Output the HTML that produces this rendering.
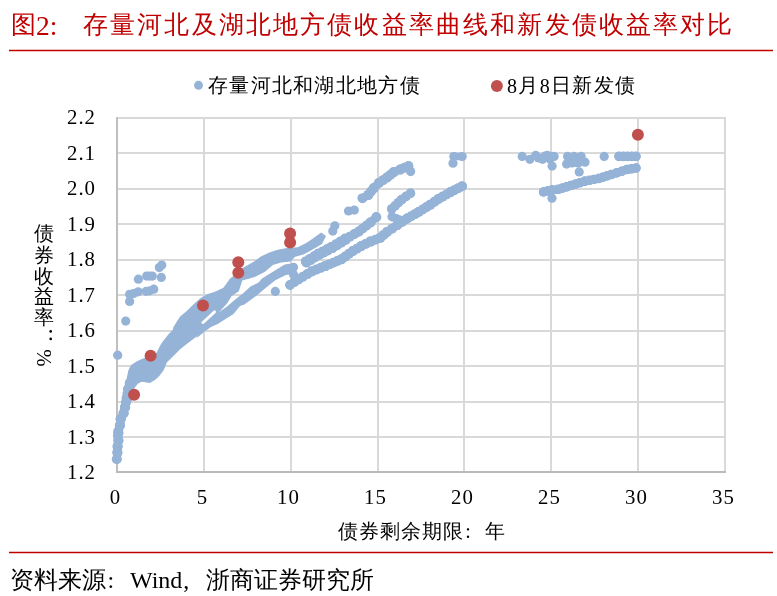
<!DOCTYPE html>
<html><head><meta charset="utf-8"><style>
html,body{margin:0;padding:0;background:#fff;}
body{width:777px;height:596px;position:relative;overflow:hidden;font-family:"Liberation Serif";color:#000;}
.t{position:absolute;white-space:nowrap;}
.t,.yl,.xl,.yc{will-change:transform;}
.yl{position:absolute;left:42px;width:54px;text-align:right;font-size:20.8px;line-height:24px;letter-spacing:1px;}
.yc{position:absolute;left:33px;width:22px;font-size:20.4px;line-height:22px;text-align:center;}
.xl{position:absolute;top:485px;width:60px;text-align:center;font-size:20.8px;line-height:24px;letter-spacing:1px;text-indent:1px;}
svg{position:absolute;left:0;top:0;}
</style></head><body>
<div class="t" style="left:11px;top:6.5px;font-size:25px;line-height:36px;color:#c00000;">图</div>
<div class="t" style="left:36px;top:8px;font-size:27.5px;line-height:36px;color:#c00000;">2:</div>
<div class="t" style="left:83px;top:6.8px;font-size:25px;line-height:36px;letter-spacing:2.15px;color:#c00000;">存量河北及湖北地方债收益率曲线和新发债收益率对比</div>
<svg width="777" height="596">
<line x1="9" y1="50.5" x2="773" y2="50.5" stroke="#c00000" stroke-width="1.5"/>
<line x1="9" y1="552.5" x2="773" y2="552.5" stroke="#c00000" stroke-width="1.5"/>
<line x1="117.0" y1="118" x2="726.0" y2="118" stroke="#d9d9d9" stroke-width="2"/><line x1="117.0" y1="153" x2="726.0" y2="153" stroke="#d9d9d9" stroke-width="2"/><line x1="117.0" y1="189" x2="726.0" y2="189" stroke="#d9d9d9" stroke-width="2"/><line x1="117.0" y1="224" x2="726.0" y2="224" stroke="#d9d9d9" stroke-width="2"/><line x1="117.0" y1="260" x2="726.0" y2="260" stroke="#d9d9d9" stroke-width="2"/><line x1="117.0" y1="295" x2="726.0" y2="295" stroke="#d9d9d9" stroke-width="2"/><line x1="117.0" y1="331" x2="726.0" y2="331" stroke="#d9d9d9" stroke-width="2"/><line x1="117.0" y1="366" x2="726.0" y2="366" stroke="#d9d9d9" stroke-width="2"/><line x1="117.0" y1="402" x2="726.0" y2="402" stroke="#d9d9d9" stroke-width="2"/><line x1="117.0" y1="437" x2="726.0" y2="437" stroke="#d9d9d9" stroke-width="2"/><line x1="204" y1="117.0" x2="204" y2="472" stroke="#d9d9d9" stroke-width="2"/><line x1="291" y1="117.0" x2="291" y2="472" stroke="#d9d9d9" stroke-width="2"/><line x1="378" y1="117.0" x2="378" y2="472" stroke="#d9d9d9" stroke-width="2"/><line x1="464" y1="117.0" x2="464" y2="472" stroke="#d9d9d9" stroke-width="2"/><line x1="551" y1="117.0" x2="551" y2="472" stroke="#d9d9d9" stroke-width="2"/><line x1="638" y1="117.0" x2="638" y2="472" stroke="#d9d9d9" stroke-width="2"/><line x1="725" y1="117.0" x2="725" y2="472" stroke="#d9d9d9" stroke-width="2"/>
<line x1="117.0" y1="117.0" x2="117.0" y2="473" stroke="#bfbfbf" stroke-width="2"/><line x1="116.0" y1="472" x2="726.0" y2="472" stroke="#bababa" stroke-width="2"/>
<g fill="#95b3d7"><polygon points="124.0,400.0 123.1,397.1 125.1,386.4 126.4,379.7 128.4,370.3 131.1,364.9 136.5,361.5 141.8,358.9 145.9,357.5 156.6,352.8 160.6,344.8 163.3,340.7 168.7,334.0 172.7,330.0 173.4,327.1 180.1,316.4 186.8,311.0 193.6,304.3 200.3,298.3 207.0,294.2 215.0,291.8 223.4,287.7 230.1,278.4 235.2,274.8 243.5,267.5 247.0,265.6 254.1,261.4 261.2,256.2 269.4,252.6 277.6,249.7 287.0,247.9 297.6,247.3 305.8,243.2 311.8,239.2 321.2,232.5 326.0,236.0 322.0,244.0 310.0,251.0 303.5,254.4 295.2,256.7 290.5,261.4 281.1,262.6 272.9,265.0 265.0,271.7 255.3,276.7 250.5,278.2 242.3,280.6 238.8,291.2 231.7,295.9 227.0,303.5 222.0,309.0 214.0,318.0 210.0,325.0 200.0,334.0 188.0,343.0 180.4,349.0 174.4,355.0 166.8,362.5 163.8,370.0 159.3,376.0 155.3,379.7 149.9,383.0 141.8,381.7 137.8,383.7 133.8,389.1 131.8,401.1 130.0,404.0"/><polygon points="196.0,338.0 206.0,324.0 218.0,313.0 227.0,306.4 235.2,299.4 243.5,292.9 250.5,286.5 258.6,282.6 262.0,278.4 275.3,270.3 284.7,264.4 292.9,263.2 295.2,273.8 285.8,275.0 275.3,280.2 265.0,288.5 257.0,295.2 250.2,300.2 244.4,304.4 240.0,306.0 233.5,314.0 227.1,318.0 217.7,324.0 211.0,327.0 204.0,332.0 198.0,337.0"/><circle cx="129.6" cy="301.5" r="4.6"/><circle cx="125.7" cy="321.1" r="4.6"/><circle cx="117.7" cy="355.2" r="4.6"/><circle cx="275.3" cy="291.4" r="4.6"/><circle cx="293.5" cy="267.3" r="4.6"/><circle cx="293.5" cy="274.4" r="4.6"/><circle cx="348.5" cy="211.0" r="4.6"/><circle cx="354.3" cy="210.1" r="4.6"/><circle cx="334.8" cy="225.8" r="4.6"/><circle cx="332.8" cy="231.1" r="4.6"/><circle cx="129.6" cy="294.3" r="4.6"/><circle cx="133.6" cy="293.5" r="4.6"/><circle cx="138.2" cy="291.8" r="4.6"/><circle cx="146.2" cy="291.3" r="4.6"/><circle cx="149.7" cy="290.8" r="4.6"/><circle cx="153.8" cy="289.2" r="4.6"/><circle cx="138.4" cy="279.2" r="4.6"/><circle cx="146.7" cy="276.1" r="4.6"/><circle cx="149.5" cy="276.1" r="4.6"/><circle cx="152.3" cy="276.1" r="4.6"/><circle cx="161.3" cy="277.4" r="4.6"/><circle cx="159.3" cy="267.6" r="4.6"/><circle cx="161.8" cy="265.1" r="4.6"/><circle cx="410.6" cy="171.6" r="4.6"/><circle cx="453.0" cy="163.2" r="4.6"/><circle cx="522.2" cy="156.4" r="4.6"/><circle cx="529.9" cy="159.3" r="4.6"/><circle cx="535.7" cy="155.4" r="4.6"/><circle cx="538.5" cy="158.0" r="4.6"/><circle cx="542.5" cy="159.3" r="4.6"/><circle cx="545.0" cy="156.0" r="4.6"/><circle cx="547.3" cy="155.4" r="4.6"/><circle cx="551.0" cy="156.4" r="4.6"/><circle cx="554.1" cy="156.4" r="4.6"/><circle cx="550.0" cy="159.0" r="4.6"/><circle cx="552.1" cy="166.1" r="4.6"/><circle cx="567.6" cy="156.4" r="4.6"/><circle cx="574.0" cy="156.4" r="4.6"/><circle cx="581.1" cy="156.4" r="4.6"/><circle cx="566.6" cy="164.1" r="4.6"/><circle cx="572.0" cy="163.0" r="4.6"/><circle cx="578.0" cy="163.0" r="4.6"/><circle cx="585.0" cy="162.2" r="4.6"/><circle cx="579.2" cy="171.9" r="4.6"/><circle cx="604.2" cy="156.4" r="4.6"/><circle cx="552.0" cy="198.2" r="4.6"/><circle cx="117.9" cy="431.0" r="4.6"/><circle cx="117.5" cy="436.0" r="4.6"/></g><g fill="#95b3d7"><circle cx="362.1" cy="198.0" r="4.6"/><circle cx="362.5" cy="198.6" r="4.6"/><circle cx="362.3" cy="198.3" r="4.6"/><circle cx="368.1" cy="194.6" r="4.6"/><circle cx="368.5" cy="195.2" r="4.6"/><circle cx="368.3" cy="194.9" r="4.6"/><circle cx="368.0" cy="194.6" r="4.6"/><circle cx="368.6" cy="195.2" r="4.6"/><circle cx="368.3" cy="194.9" r="4.6"/><circle cx="370.7" cy="191.3" r="4.6"/><circle cx="371.3" cy="191.8" r="4.6"/><circle cx="371.0" cy="191.6" r="4.6"/><circle cx="373.4" cy="187.9" r="4.6"/><circle cx="374.0" cy="188.5" r="4.6"/><circle cx="373.7" cy="188.2" r="4.6"/><circle cx="373.4" cy="187.9" r="4.6"/><circle cx="374.0" cy="188.5" r="4.6"/><circle cx="373.7" cy="188.2" r="4.6"/><circle cx="378.8" cy="182.5" r="4.6"/><circle cx="379.4" cy="183.1" r="4.6"/><circle cx="379.1" cy="182.8" r="4.6"/><circle cx="378.9" cy="182.5" r="4.6"/><circle cx="379.3" cy="183.1" r="4.6"/><circle cx="379.1" cy="182.8" r="4.6"/><circle cx="382.9" cy="179.8" r="4.6"/><circle cx="383.3" cy="180.4" r="4.6"/><circle cx="383.1" cy="180.1" r="4.6"/><circle cx="386.9" cy="177.1" r="4.6"/><circle cx="387.3" cy="177.7" r="4.6"/><circle cx="387.1" cy="177.4" r="4.6"/><circle cx="386.9" cy="177.1" r="4.6"/><circle cx="387.3" cy="177.7" r="4.6"/><circle cx="387.1" cy="177.4" r="4.6"/><circle cx="390.2" cy="174.4" r="4.6"/><circle cx="390.7" cy="175.1" r="4.6"/><circle cx="390.5" cy="174.8" r="4.6"/><circle cx="393.6" cy="171.8" r="4.6"/><circle cx="394.0" cy="172.4" r="4.6"/><circle cx="393.8" cy="172.1" r="4.6"/><circle cx="393.7" cy="171.7" r="4.6"/><circle cx="393.9" cy="172.5" r="4.6"/><circle cx="393.8" cy="172.1" r="4.6"/><circle cx="400.4" cy="169.0" r="4.6"/><circle cx="400.6" cy="169.8" r="4.6"/><circle cx="400.5" cy="169.4" r="4.6"/><circle cx="400.3" cy="169.0" r="4.6"/><circle cx="400.7" cy="169.8" r="4.6"/><circle cx="400.5" cy="169.4" r="4.6"/><circle cx="404.4" cy="167.3" r="4.6"/><circle cx="404.7" cy="168.1" r="4.6"/><circle cx="404.6" cy="167.7" r="4.6"/><circle cx="408.4" cy="165.6" r="4.6"/><circle cx="408.8" cy="166.4" r="4.6"/><circle cx="408.6" cy="166.0" r="4.6"/><circle cx="305.4" cy="261.0" r="4.6"/><circle cx="306.6" cy="263.0" r="4.6"/><circle cx="306.0" cy="262.0" r="4.6"/><circle cx="309.6" cy="258.5" r="4.6"/><circle cx="310.8" cy="260.4" r="4.6"/><circle cx="310.2" cy="259.4" r="4.6"/><circle cx="313.8" cy="255.9" r="4.6"/><circle cx="315.0" cy="257.8" r="4.6"/><circle cx="314.4" cy="256.9" r="4.6"/><circle cx="318.0" cy="253.3" r="4.6"/><circle cx="319.2" cy="255.3" r="4.6"/><circle cx="318.6" cy="254.3" r="4.6"/><circle cx="318.1" cy="253.3" r="4.6"/><circle cx="319.1" cy="255.3" r="4.6"/><circle cx="318.6" cy="254.3" r="4.6"/><circle cx="322.5" cy="251.0" r="4.6"/><circle cx="323.6" cy="253.1" r="4.6"/><circle cx="323.1" cy="252.0" r="4.6"/><circle cx="327.0" cy="248.7" r="4.6"/><circle cx="328.1" cy="250.8" r="4.6"/><circle cx="327.5" cy="249.8" r="4.6"/><circle cx="331.5" cy="246.5" r="4.6"/><circle cx="332.5" cy="248.5" r="4.6"/><circle cx="332.0" cy="247.5" r="4.6"/><circle cx="331.4" cy="246.5" r="4.6"/><circle cx="332.6" cy="248.5" r="4.6"/><circle cx="332.0" cy="247.5" r="4.6"/><circle cx="335.9" cy="243.8" r="4.6"/><circle cx="337.1" cy="245.7" r="4.6"/><circle cx="336.5" cy="244.7" r="4.6"/><circle cx="340.3" cy="241.0" r="4.6"/><circle cx="341.5" cy="242.9" r="4.6"/><circle cx="340.9" cy="242.0" r="4.6"/><circle cx="344.8" cy="238.2" r="4.6"/><circle cx="346.0" cy="240.2" r="4.6"/><circle cx="345.4" cy="239.2" r="4.6"/><circle cx="345.2" cy="238.9" r="4.6"/><circle cx="345.6" cy="239.5" r="4.6"/><circle cx="345.4" cy="239.2" r="4.6"/><circle cx="349.7" cy="236.3" r="4.6"/><circle cx="350.1" cy="237.0" r="4.6"/><circle cx="349.9" cy="236.6" r="4.6"/><circle cx="354.1" cy="233.7" r="4.6"/><circle cx="354.5" cy="234.4" r="4.6"/><circle cx="354.3" cy="234.1" r="4.6"/><circle cx="358.6" cy="231.2" r="4.6"/><circle cx="359.0" cy="231.8" r="4.6"/><circle cx="358.8" cy="231.5" r="4.6"/><circle cx="358.6" cy="231.2" r="4.6"/><circle cx="359.0" cy="231.8" r="4.6"/><circle cx="358.8" cy="231.5" r="4.6"/><circle cx="362.5" cy="228.2" r="4.6"/><circle cx="362.9" cy="228.8" r="4.6"/><circle cx="362.7" cy="228.5" r="4.6"/><circle cx="366.4" cy="225.2" r="4.6"/><circle cx="366.8" cy="225.8" r="4.6"/><circle cx="366.6" cy="225.5" r="4.6"/><circle cx="370.3" cy="222.2" r="4.6"/><circle cx="370.7" cy="222.8" r="4.6"/><circle cx="370.5" cy="222.5" r="4.6"/><circle cx="370.2" cy="222.2" r="4.6"/><circle cx="370.8" cy="222.8" r="4.6"/><circle cx="370.5" cy="222.5" r="4.6"/><circle cx="376.1" cy="216.7" r="4.6"/><circle cx="376.7" cy="217.3" r="4.6"/><circle cx="376.4" cy="217.0" r="4.6"/><circle cx="289.8" cy="284.7" r="4.6"/><circle cx="290.2" cy="285.3" r="4.6"/><circle cx="290.0" cy="285.0" r="4.6"/><circle cx="294.0" cy="281.9" r="4.6"/><circle cx="294.4" cy="282.5" r="4.6"/><circle cx="294.2" cy="282.2" r="4.6"/><circle cx="298.2" cy="279.1" r="4.6"/><circle cx="298.6" cy="279.7" r="4.6"/><circle cx="298.4" cy="279.4" r="4.6"/><circle cx="298.2" cy="279.1" r="4.6"/><circle cx="298.6" cy="279.7" r="4.6"/><circle cx="298.4" cy="279.4" r="4.6"/><circle cx="302.7" cy="276.4" r="4.6"/><circle cx="303.1" cy="277.1" r="4.6"/><circle cx="302.9" cy="276.7" r="4.6"/><circle cx="307.1" cy="273.7" r="4.6"/><circle cx="307.5" cy="274.4" r="4.6"/><circle cx="307.3" cy="274.1" r="4.6"/><circle cx="311.6" cy="271.1" r="4.6"/><circle cx="312.0" cy="271.7" r="4.6"/><circle cx="311.8" cy="271.4" r="4.6"/><circle cx="311.7" cy="271.0" r="4.6"/><circle cx="311.9" cy="271.8" r="4.6"/><circle cx="311.8" cy="271.4" r="4.6"/><circle cx="316.2" cy="269.2" r="4.6"/><circle cx="316.4" cy="270.0" r="4.6"/><circle cx="316.3" cy="269.6" r="4.6"/><circle cx="320.7" cy="267.4" r="4.6"/><circle cx="320.9" cy="268.2" r="4.6"/><circle cx="320.8" cy="267.8" r="4.6"/><circle cx="325.2" cy="265.6" r="4.6"/><circle cx="325.4" cy="266.4" r="4.6"/><circle cx="325.3" cy="266.0" r="4.6"/><circle cx="325.1" cy="265.6" r="4.6"/><circle cx="325.5" cy="266.4" r="4.6"/><circle cx="325.3" cy="266.0" r="4.6"/><circle cx="329.2" cy="264.0" r="4.6"/><circle cx="329.5" cy="264.7" r="4.6"/><circle cx="329.3" cy="264.3" r="4.6"/><circle cx="333.2" cy="262.3" r="4.6"/><circle cx="333.5" cy="263.0" r="4.6"/><circle cx="333.4" cy="262.6" r="4.6"/><circle cx="337.2" cy="260.6" r="4.6"/><circle cx="337.5" cy="261.3" r="4.6"/><circle cx="337.4" cy="261.0" r="4.6"/><circle cx="341.2" cy="258.9" r="4.6"/><circle cx="341.6" cy="259.7" r="4.6"/><circle cx="341.4" cy="259.3" r="4.6"/><circle cx="341.2" cy="259.0" r="4.6"/><circle cx="341.6" cy="259.6" r="4.6"/><circle cx="341.4" cy="259.3" r="4.6"/><circle cx="345.0" cy="256.2" r="4.6"/><circle cx="345.5" cy="256.9" r="4.6"/><circle cx="345.2" cy="256.5" r="4.6"/><circle cx="348.8" cy="253.4" r="4.6"/><circle cx="349.3" cy="254.1" r="4.6"/><circle cx="349.1" cy="253.8" r="4.6"/><circle cx="352.7" cy="250.7" r="4.6"/><circle cx="353.1" cy="251.3" r="4.6"/><circle cx="352.9" cy="251.0" r="4.6"/><circle cx="352.7" cy="250.7" r="4.6"/><circle cx="353.1" cy="251.3" r="4.6"/><circle cx="352.9" cy="251.0" r="4.6"/><circle cx="356.8" cy="248.3" r="4.6"/><circle cx="357.2" cy="248.9" r="4.6"/><circle cx="357.0" cy="248.6" r="4.6"/><circle cx="360.9" cy="245.9" r="4.6"/><circle cx="361.3" cy="246.5" r="4.6"/><circle cx="361.1" cy="246.2" r="4.6"/><circle cx="360.9" cy="245.8" r="4.6"/><circle cx="361.3" cy="246.6" r="4.6"/><circle cx="361.1" cy="246.2" r="4.6"/><circle cx="365.6" cy="243.5" r="4.6"/><circle cx="366.0" cy="244.2" r="4.6"/><circle cx="365.8" cy="243.8" r="4.6"/><circle cx="370.3" cy="241.1" r="4.6"/><circle cx="370.7" cy="241.9" r="4.6"/><circle cx="370.5" cy="241.5" r="4.6"/><circle cx="370.4" cy="241.1" r="4.6"/><circle cx="370.6" cy="241.9" r="4.6"/><circle cx="370.5" cy="241.5" r="4.6"/><circle cx="375.3" cy="239.3" r="4.6"/><circle cx="375.5" cy="240.0" r="4.6"/><circle cx="375.4" cy="239.7" r="4.6"/><circle cx="380.2" cy="237.4" r="4.6"/><circle cx="380.4" cy="238.2" r="4.6"/><circle cx="380.3" cy="237.8" r="4.6"/><circle cx="380.0" cy="237.5" r="4.6"/><circle cx="380.6" cy="238.1" r="4.6"/><circle cx="380.3" cy="237.8" r="4.6"/><circle cx="383.4" cy="234.6" r="4.6"/><circle cx="383.9" cy="235.2" r="4.6"/><circle cx="383.6" cy="234.9" r="4.6"/><circle cx="386.7" cy="231.7" r="4.6"/><circle cx="387.3" cy="232.3" r="4.6"/><circle cx="387.0" cy="232.0" r="4.6"/><circle cx="386.8" cy="231.7" r="4.6"/><circle cx="387.2" cy="232.3" r="4.6"/><circle cx="387.0" cy="232.0" r="4.6"/><circle cx="391.8" cy="228.3" r="4.6"/><circle cx="392.3" cy="228.9" r="4.6"/><circle cx="392.1" cy="228.6" r="4.6"/><circle cx="396.9" cy="224.9" r="4.6"/><circle cx="397.3" cy="225.5" r="4.6"/><circle cx="397.1" cy="225.2" r="4.6"/><circle cx="396.9" cy="224.9" r="4.6"/><circle cx="397.3" cy="225.5" r="4.6"/><circle cx="397.1" cy="225.2" r="4.6"/><circle cx="401.9" cy="221.5" r="4.6"/><circle cx="402.4" cy="222.2" r="4.6"/><circle cx="402.1" cy="221.8" r="4.6"/><circle cx="407.0" cy="218.2" r="4.6"/><circle cx="407.4" cy="218.8" r="4.6"/><circle cx="407.2" cy="218.5" r="4.6"/><circle cx="407.0" cy="218.2" r="4.6"/><circle cx="407.4" cy="218.8" r="4.6"/><circle cx="407.2" cy="218.5" r="4.6"/><circle cx="410.9" cy="215.9" r="4.6"/><circle cx="411.3" cy="216.6" r="4.6"/><circle cx="411.1" cy="216.3" r="4.6"/><circle cx="414.8" cy="213.7" r="4.6"/><circle cx="415.2" cy="214.4" r="4.6"/><circle cx="415.0" cy="214.0" r="4.6"/><circle cx="418.7" cy="211.5" r="4.6"/><circle cx="419.1" cy="212.1" r="4.6"/><circle cx="418.9" cy="211.8" r="4.6"/><circle cx="418.7" cy="211.5" r="4.6"/><circle cx="419.1" cy="212.1" r="4.6"/><circle cx="418.9" cy="211.8" r="4.6"/><circle cx="422.5" cy="209.1" r="4.6"/><circle cx="422.9" cy="209.8" r="4.6"/><circle cx="422.7" cy="209.4" r="4.6"/><circle cx="426.3" cy="206.7" r="4.6"/><circle cx="426.7" cy="207.4" r="4.6"/><circle cx="426.5" cy="207.1" r="4.6"/><circle cx="430.1" cy="204.4" r="4.6"/><circle cx="430.5" cy="205.0" r="4.6"/><circle cx="430.3" cy="204.7" r="4.6"/><circle cx="430.1" cy="204.4" r="4.6"/><circle cx="430.5" cy="205.0" r="4.6"/><circle cx="430.3" cy="204.7" r="4.6"/><circle cx="434.3" cy="201.4" r="4.6"/><circle cx="434.7" cy="202.1" r="4.6"/><circle cx="434.5" cy="201.8" r="4.6"/><circle cx="438.5" cy="198.5" r="4.6"/><circle cx="438.9" cy="199.1" r="4.6"/><circle cx="438.7" cy="198.8" r="4.6"/><circle cx="438.5" cy="198.5" r="4.6"/><circle cx="438.9" cy="199.1" r="4.6"/><circle cx="438.7" cy="198.8" r="4.6"/><circle cx="442.4" cy="196.2" r="4.6"/><circle cx="442.8" cy="196.9" r="4.6"/><circle cx="442.6" cy="196.6" r="4.6"/><circle cx="446.4" cy="194.0" r="4.6"/><circle cx="446.8" cy="194.7" r="4.6"/><circle cx="446.6" cy="194.3" r="4.6"/><circle cx="450.3" cy="191.8" r="4.6"/><circle cx="450.7" cy="192.4" r="4.6"/><circle cx="450.5" cy="192.1" r="4.6"/><circle cx="450.3" cy="191.7" r="4.6"/><circle cx="450.7" cy="192.5" r="4.6"/><circle cx="450.5" cy="192.1" r="4.6"/><circle cx="454.2" cy="189.8" r="4.6"/><circle cx="454.6" cy="190.5" r="4.6"/><circle cx="454.4" cy="190.1" r="4.6"/><circle cx="458.1" cy="187.8" r="4.6"/><circle cx="458.5" cy="188.5" r="4.6"/><circle cx="458.3" cy="188.2" r="4.6"/><circle cx="462.0" cy="185.8" r="4.6"/><circle cx="462.4" cy="186.6" r="4.6"/><circle cx="462.2" cy="186.2" r="4.6"/><circle cx="391.6" cy="208.8" r="4.6"/><circle cx="391.8" cy="209.0" r="4.6"/><circle cx="391.7" cy="208.9" r="4.6"/><circle cx="395.0" cy="205.7" r="4.6"/><circle cx="395.2" cy="205.9" r="4.6"/><circle cx="395.1" cy="205.8" r="4.6"/><circle cx="398.3" cy="202.5" r="4.6"/><circle cx="398.5" cy="202.7" r="4.6"/><circle cx="398.4" cy="202.6" r="4.6"/><circle cx="401.7" cy="199.4" r="4.6"/><circle cx="401.9" cy="199.6" r="4.6"/><circle cx="401.8" cy="199.5" r="4.6"/><circle cx="401.7" cy="199.4" r="4.6"/><circle cx="401.9" cy="199.6" r="4.6"/><circle cx="401.8" cy="199.5" r="4.6"/><circle cx="406.1" cy="196.2" r="4.6"/><circle cx="406.2" cy="196.5" r="4.6"/><circle cx="406.1" cy="196.3" r="4.6"/><circle cx="410.4" cy="193.1" r="4.6"/><circle cx="410.6" cy="193.3" r="4.6"/><circle cx="410.5" cy="193.2" r="4.6"/><circle cx="392.0" cy="216.8" r="4.6"/><circle cx="396.2" cy="218.5" r="4.6"/><circle cx="400.5" cy="220.2" r="4.6"/><circle cx="453.8" cy="156.5" r="4.6"/><circle cx="462.2" cy="156.5" r="4.6"/><circle cx="619.0" cy="156.2" r="4.6"/><circle cx="619.0" cy="156.6" r="4.6"/><circle cx="619.0" cy="156.4" r="4.6"/><circle cx="623.2" cy="156.2" r="4.6"/><circle cx="623.2" cy="156.6" r="4.6"/><circle cx="623.2" cy="156.4" r="4.6"/><circle cx="627.5" cy="156.2" r="4.6"/><circle cx="627.5" cy="156.6" r="4.6"/><circle cx="627.5" cy="156.4" r="4.6"/><circle cx="631.8" cy="156.2" r="4.6"/><circle cx="631.8" cy="156.6" r="4.6"/><circle cx="631.8" cy="156.4" r="4.6"/><circle cx="636.0" cy="156.2" r="4.6"/><circle cx="636.0" cy="156.6" r="4.6"/><circle cx="636.0" cy="156.4" r="4.6"/><circle cx="543.5" cy="191.8" r="4.6"/><circle cx="543.5" cy="192.0" r="4.6"/><circle cx="543.5" cy="191.9" r="4.6"/><circle cx="547.7" cy="190.8" r="4.6"/><circle cx="547.8" cy="191.1" r="4.6"/><circle cx="547.8" cy="190.9" r="4.6"/><circle cx="552.0" cy="189.9" r="4.6"/><circle cx="552.0" cy="190.1" r="4.6"/><circle cx="552.0" cy="190.0" r="4.6"/><circle cx="552.0" cy="189.9" r="4.6"/><circle cx="552.0" cy="190.1" r="4.6"/><circle cx="552.0" cy="190.0" r="4.6"/><circle cx="558.0" cy="189.3" r="4.6"/><circle cx="558.0" cy="189.5" r="4.6"/><circle cx="558.0" cy="189.4" r="4.6"/><circle cx="558.0" cy="189.3" r="4.6"/><circle cx="558.0" cy="189.5" r="4.6"/><circle cx="558.0" cy="189.4" r="4.6"/><circle cx="562.3" cy="188.0" r="4.6"/><circle cx="562.4" cy="188.2" r="4.6"/><circle cx="562.3" cy="188.1" r="4.6"/><circle cx="566.6" cy="186.7" r="4.6"/><circle cx="566.7" cy="186.9" r="4.6"/><circle cx="566.7" cy="186.8" r="4.6"/><circle cx="571.0" cy="185.4" r="4.6"/><circle cx="571.0" cy="185.6" r="4.6"/><circle cx="571.0" cy="185.5" r="4.6"/><circle cx="571.0" cy="185.4" r="4.6"/><circle cx="571.0" cy="185.6" r="4.6"/><circle cx="571.0" cy="185.5" r="4.6"/><circle cx="575.5" cy="184.0" r="4.6"/><circle cx="575.6" cy="184.2" r="4.6"/><circle cx="575.5" cy="184.1" r="4.6"/><circle cx="580.0" cy="182.6" r="4.6"/><circle cx="580.1" cy="182.8" r="4.6"/><circle cx="580.1" cy="182.7" r="4.6"/><circle cx="584.6" cy="181.2" r="4.6"/><circle cx="584.6" cy="181.4" r="4.6"/><circle cx="584.6" cy="181.3" r="4.6"/><circle cx="584.6" cy="181.2" r="4.6"/><circle cx="584.6" cy="181.4" r="4.6"/><circle cx="584.6" cy="181.3" r="4.6"/><circle cx="589.3" cy="180.2" r="4.6"/><circle cx="589.3" cy="180.5" r="4.6"/><circle cx="589.3" cy="180.4" r="4.6"/><circle cx="594.0" cy="179.3" r="4.6"/><circle cx="594.0" cy="179.6" r="4.6"/><circle cx="594.0" cy="179.4" r="4.6"/><circle cx="598.7" cy="178.4" r="4.6"/><circle cx="598.7" cy="178.6" r="4.6"/><circle cx="598.7" cy="178.5" r="4.6"/><circle cx="598.7" cy="178.4" r="4.6"/><circle cx="598.7" cy="178.6" r="4.6"/><circle cx="598.7" cy="178.5" r="4.6"/><circle cx="602.9" cy="177.0" r="4.6"/><circle cx="603.0" cy="177.3" r="4.6"/><circle cx="603.0" cy="177.2" r="4.6"/><circle cx="607.2" cy="175.7" r="4.6"/><circle cx="607.3" cy="176.0" r="4.6"/><circle cx="607.2" cy="175.8" r="4.6"/><circle cx="611.5" cy="174.4" r="4.6"/><circle cx="611.5" cy="174.6" r="4.6"/><circle cx="611.5" cy="174.5" r="4.6"/><circle cx="611.5" cy="174.4" r="4.6"/><circle cx="611.5" cy="174.6" r="4.6"/><circle cx="611.5" cy="174.5" r="4.6"/><circle cx="616.7" cy="172.7" r="4.6"/><circle cx="616.7" cy="173.0" r="4.6"/><circle cx="616.7" cy="172.8" r="4.6"/><circle cx="621.9" cy="171.0" r="4.6"/><circle cx="621.9" cy="171.3" r="4.6"/><circle cx="621.9" cy="171.2" r="4.6"/><circle cx="627.1" cy="169.4" r="4.6"/><circle cx="627.1" cy="169.6" r="4.6"/><circle cx="627.1" cy="169.5" r="4.6"/><circle cx="627.1" cy="169.4" r="4.6"/><circle cx="627.1" cy="169.6" r="4.6"/><circle cx="627.1" cy="169.5" r="4.6"/><circle cx="631.5" cy="168.6" r="4.6"/><circle cx="631.6" cy="168.9" r="4.6"/><circle cx="631.5" cy="168.8" r="4.6"/><circle cx="636.0" cy="167.9" r="4.6"/><circle cx="636.0" cy="168.1" r="4.6"/><circle cx="636.0" cy="168.0" r="4.6"/><circle cx="116.4" cy="459.3" r="4.6"/><circle cx="117.2" cy="459.3" r="4.6"/><circle cx="116.8" cy="459.3" r="4.6"/><circle cx="117.0" cy="452.5" r="4.6"/><circle cx="117.8" cy="452.5" r="4.6"/><circle cx="117.4" cy="452.5" r="4.6"/><circle cx="117.0" cy="452.5" r="4.6"/><circle cx="117.8" cy="452.5" r="4.6"/><circle cx="117.4" cy="452.5" r="4.6"/><circle cx="117.2" cy="446.5" r="4.6"/><circle cx="118.0" cy="446.5" r="4.6"/><circle cx="117.6" cy="446.5" r="4.6"/><circle cx="117.2" cy="446.4" r="4.6"/><circle cx="118.0" cy="446.6" r="4.6"/><circle cx="117.6" cy="446.5" r="4.6"/><circle cx="118.0" cy="440.3" r="4.6"/><circle cx="118.8" cy="440.5" r="4.6"/><circle cx="118.4" cy="440.4" r="4.6"/><circle cx="118.0" cy="440.4" r="4.6"/><circle cx="118.8" cy="440.4" r="4.6"/><circle cx="118.4" cy="440.4" r="4.6"/><circle cx="118.0" cy="432.9" r="4.6"/><circle cx="118.8" cy="432.9" r="4.6"/><circle cx="118.4" cy="432.9" r="4.6"/><circle cx="118.0" cy="432.8" r="4.6"/><circle cx="118.8" cy="433.0" r="4.6"/><circle cx="118.4" cy="432.9" r="4.6"/><circle cx="119.5" cy="425.2" r="4.6"/><circle cx="120.3" cy="425.4" r="4.6"/><circle cx="119.9" cy="425.3" r="4.6"/><circle cx="119.5" cy="425.3" r="4.6"/><circle cx="120.3" cy="425.3" r="4.6"/><circle cx="119.9" cy="425.3" r="4.6"/><circle cx="120.2" cy="419.3" r="4.6"/><circle cx="121.0" cy="419.3" r="4.6"/><circle cx="120.6" cy="419.3" r="4.6"/><circle cx="120.2" cy="419.1" r="4.6"/><circle cx="121.0" cy="419.5" r="4.6"/><circle cx="120.6" cy="419.3" r="4.6"/><circle cx="123.2" cy="413.0" r="4.6"/><circle cx="124.0" cy="413.4" r="4.6"/><circle cx="123.6" cy="413.2" r="4.6"/><circle cx="123.2" cy="413.1" r="4.6"/><circle cx="124.0" cy="413.3" r="4.6"/><circle cx="123.6" cy="413.2" r="4.6"/><circle cx="124.7" cy="407.1" r="4.6"/><circle cx="125.5" cy="407.3" r="4.6"/><circle cx="125.1" cy="407.2" r="4.6"/><circle cx="124.7" cy="407.1" r="4.6"/><circle cx="125.5" cy="407.3" r="4.6"/><circle cx="125.1" cy="407.2" r="4.6"/><circle cx="125.5" cy="402.6" r="4.6"/><circle cx="126.3" cy="402.7" r="4.6"/><circle cx="125.9" cy="402.6" r="4.6"/><circle cx="126.3" cy="398.0" r="4.6"/><circle cx="127.1" cy="398.2" r="4.6"/><circle cx="126.7" cy="398.1" r="4.6"/><circle cx="126.3" cy="398.0" r="4.6"/><circle cx="127.1" cy="398.2" r="4.6"/><circle cx="126.7" cy="398.1" r="4.6"/><circle cx="127.1" cy="393.5" r="4.6"/><circle cx="127.8" cy="393.7" r="4.6"/><circle cx="127.4" cy="393.6" r="4.6"/><circle cx="127.8" cy="389.0" r="4.6"/><circle cx="128.6" cy="389.2" r="4.6"/><circle cx="128.2" cy="389.1" r="4.6"/><circle cx="127.8" cy="389.0" r="4.6"/><circle cx="128.6" cy="389.2" r="4.6"/><circle cx="128.2" cy="389.1" r="4.6"/><circle cx="129.3" cy="382.9" r="4.6"/><circle cx="130.1" cy="383.1" r="4.6"/><circle cx="129.7" cy="383.0" r="4.6"/></g><g fill="none" stroke="#95b3d7" stroke-linecap="round" stroke-linejoin="round"><polyline stroke-width="8.4" points="362.3,198.3 368.3,194.9 373.7,188.2 379.1,182.8 387.1,177.4 393.8,172.1 400.5,169.4 408.6,166.0"/><polyline stroke-width="9.9" points="306.0,262.0 318.6,254.3 332.0,247.5 345.4,239.2"/><polyline stroke-width="8.4" points="345.4,239.2 358.8,231.5 370.5,222.5 376.4,217.0"/><polyline stroke-width="8.4" points="290.0,285.0 298.4,279.4 311.8,271.4 325.3,266.0 341.4,259.3 352.9,251.0 361.1,246.2 370.5,241.5 380.3,237.8 387.0,232.0 397.1,225.2 407.2,218.5 418.9,211.8 430.3,204.7 438.7,198.8 450.5,192.1 462.2,186.2"/><polyline stroke-width="7.9" points="391.7,208.9 401.8,199.5 410.5,193.2"/><polyline stroke-width="7.4" points="392.0,216.8 400.5,220.2"/><polyline stroke-width="7.4" points="453.8,156.5 462.2,156.5"/><polyline stroke-width="7.9" points="619.0,156.4 636.0,156.4"/><polyline stroke-width="7.9" points="543.5,191.9 552.0,190.0 558.0,189.4 571.0,185.5 584.6,181.3 598.7,178.5 611.5,174.5 627.1,169.5 636.0,168.0"/><polyline stroke-width="8.4" points="116.8,459.3 117.4,452.5 117.6,446.5 118.4,440.4 118.4,432.9 119.9,425.3 120.6,419.3 123.6,413.2 125.1,407.2 126.7,398.1 128.2,389.1 129.7,383.0"/></g><g fill="none" stroke="#fff" stroke-linecap="round"><polyline stroke-width="3" points="203.0,322.5 208.5,317.5 214.5,311.8"/></g>
<g fill="#c0504d"><circle cx="150.6" cy="355.8" r="6"/><circle cx="134.1" cy="394.8" r="6"/><circle cx="203.0" cy="305.6" r="6"/><circle cx="238.3" cy="262.2" r="6"/><circle cx="238.3" cy="272.8" r="6"/><circle cx="290.1" cy="233.4" r="6"/><circle cx="290.1" cy="242.6" r="6"/><circle cx="637.9" cy="134.8" r="6"/></g>
<circle cx="198.5" cy="85.3" r="4.45" fill="#95b3d7"/>
<circle cx="496.9" cy="86" r="6" fill="#c0504d"/>
</svg>
<div class="t" style="left:208px;top:71px;font-size:20px;line-height:28px;letter-spacing:1.3px;">存量河北和湖北地方债</div>
<div class="t" style="left:507px;top:71px;font-size:20px;line-height:28px;letter-spacing:1.3px;"><span style="position:relative;top:1px">8</span>月<span style="position:relative;top:1px">8</span>日新发债</div>
<div class="yl" style="top:105.0px">2.2</div><div class="yl" style="top:140.5px">2.1</div><div class="yl" style="top:176.1px">2.0</div><div class="yl" style="top:211.6px">1.9</div><div class="yl" style="top:247.1px">1.8</div><div class="yl" style="top:282.6px">1.7</div><div class="yl" style="top:318.2px">1.6</div><div class="yl" style="top:353.7px">1.5</div><div class="yl" style="top:389.2px">1.4</div><div class="yl" style="top:424.8px">1.3</div><div class="yl" style="top:460.3px">1.2</div>
<div class="xl" style="left:84.7px">0</div><div class="xl" style="left:171.6px">5</div><div class="xl" style="left:258.4px">10</div><div class="xl" style="left:345.3px">15</div><div class="xl" style="left:432.1px">20</div><div class="xl" style="left:519.0px">25</div><div class="xl" style="left:605.8px">30</div><div class="xl" style="left:692.7px">35</div>
<div class="yc" style="top:222px">债</div>
<div class="yc" style="top:244px">券</div>
<div class="yc" style="top:265px">收</div>
<div class="yc" style="top:285px">益</div>
<div class="yc" style="top:306px">率</div>
<svg width="777" height="596" style="pointer-events:none"><circle cx="50.7" cy="331.4" r="1.3" fill="#000"/><circle cx="50.7" cy="338.9" r="1.3" fill="#000"/></svg>
<div class="t" style="left:32px;top:346px;width:24px;height:24px;font-size:20.8px;line-height:24px;transform:rotate(90deg);text-align:center;">%</div>
<div class="t" style="left:338.4px;top:517px;font-size:20px;line-height:28px;letter-spacing:0.95px;">债券剩余期限<span style="display:inline-block;width:20.95px;text-indent:1.5px">:</span>年</div>
<div class="t" style="left:10px;top:565px;font-size:24px;line-height:30px;">资料来源<span style="display:inline-block;width:24px;text-indent:1.5px">:</span>Wind<span style="display:inline-block;width:24px;text-indent:1px">,</span>浙商证券研究所</div>
</body></html>
